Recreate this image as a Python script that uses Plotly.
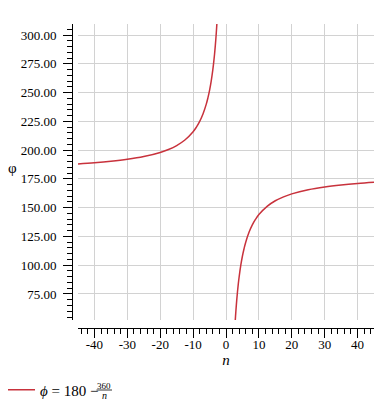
import plotly.graph_objects as go

n_left = [-45, -40, -35, -30, -25, -20, -17.5, -15, -12.5, -10, -9, -8, -7, -6, -5.5, -5, -4.5, -4, -3.75, -3.5, -3.25, -3.1, -3, -2.9, -2.75]
phi_left = [188.0, 189.0, 190.29, 192.0, 194.4, 198.0, 200.57, 204.0, 208.8, 216.0, 220.0, 225.0, 231.43, 240.0, 245.45, 252.0, 260.0, 270.0, 276.0, 282.86, 290.77, 296.13, 300.0, 304.14, 310.91]
n_right = [2.75, 2.9, 3, 3.25, 3.5, 3.75, 4, 4.5, 5, 5.5, 6, 7, 8, 9, 10, 12.5, 15, 17.5, 20, 25, 30, 35, 40, 45]
phi_right = [49.09, 55.86, 60.0, 69.23, 77.14, 84.0, 90.0, 100.0, 108.0, 114.55, 120.0, 128.57, 135.0, 140.0, 144.0, 151.2, 156.0, 159.43, 162.0, 165.6, 168.0, 169.71, 171.0, 172.0]

x_tickvals = [-40, -30, -20, -10, 0, 10, 20, 30, 40]
x_ticktext = ["-40", "-30", "-20", "-10", "0", "10", "20", "30", "40"]

# the page body adds an 8px offset; compensate so marks land on target pixels
O = 8
W, H = 384 - O, 412 - O
AX_X, PLOT_L, PLOT_R = 72, 78, 374
PLOT_T, PLOT_B, AX_Y = 24, 320, 328
ML, MR, MT, MB = AX_X - O, (384 - PLOT_R), PLOT_T - O, 412 - AX_Y
PW, PH = W - ML - MR, H - MT - MB

def px(x):
    return (x - O - ML) / PW

def py(y):
    return (H - MB - (y - O)) / PH

serif = "Liberation Serif"
red = "#c8323c"

fig = go.Figure()
fig.add_trace(go.Scatter(
    x=n_left + [None] + n_right,
    y=phi_left + [None] + phi_right,
    mode="lines",
    line=dict(color=red, width=1.5, shape="spline"),
    connectgaps=False,
    name="<i>ϕ</i> = 180 −",
    showlegend=True,
))

fig.update_layout(
    width=W, height=H,
    margin=dict(l=ML, r=MR, t=MT, b=MB, autoexpand=False),
    paper_bgcolor="white",
    plot_bgcolor="white",
    font=dict(family=serif, size=13, color="black"),
    showlegend=True,
    legend=dict(
        x=px(0), y=py(390), xanchor="left", yanchor="middle",
        font=dict(family=serif, size=15, color="black"),
        bgcolor="rgba(0,0,0,0)", borderwidth=0,
        itemwidth=30,
    ),
    xaxis=dict(
        domain=[(PLOT_L - AX_X) / PW, 1],
        range=[-45, 45],
        anchor="free", position=0,
        showline=True, linecolor="black", linewidth=1,
        ticks="outside", ticklen=9, tickcolor="black", tickwidth=1,
        tickvals=x_tickvals, ticktext=x_ticktext,
        ticklabelstandoff=-5,
        minor=dict(dtick=2, tick0=0, ticks="outside", ticklen=5, tickcolor="black", showgrid=False),
        showgrid=True, gridcolor="#d2d2d2", gridwidth=1,
        zeroline=False,
        automargin=False,
        tickfont=dict(family=serif, size=13, color="black"),
        title=dict(text="<i>n</i>", font=dict(family=serif, size=15, color="black"), standoff=0),
    ),
    yaxis=dict(
        domain=[(AX_Y - PLOT_B) / PH, 1],
        range=[52.4, 309.6],
        anchor="free", position=0,
        showline=True, linecolor="black", linewidth=1,
        ticks="outside", ticklen=9, tickcolor="black", tickwidth=1,
        tick0=0, dtick=25, tickformat=".2f",
        ticklabelstandoff=4,
        minor=dict(dtick=5, tick0=0, ticks="outside", ticklen=5, tickcolor="black", showgrid=False),
        showgrid=True, gridcolor="#d2d2d2", gridwidth=1,
        zeroline=False,
        automargin=False,
        tickfont=dict(family=serif, size=13, color="black"),
    ),
    annotations=[
        dict(text="φ", x=px(12), y=py(168), xref="paper", yref="paper",
             showarrow=False, font=dict(family=serif, size=15, color="black"),
             xanchor="center", yanchor="middle"),
        dict(text="360", x=px(104), y=py(385.5), xref="paper", yref="paper",
             showarrow=False, font=dict(family=serif, size=9, color="black"),
             xanchor="center", yanchor="middle"),
        dict(text="<i>n</i>", x=px(104), y=py(395), xref="paper", yref="paper",
             showarrow=False, font=dict(family=serif, size=10, color="black"),
             xanchor="center", yanchor="middle"),
    ],
    shapes=[
        dict(type="line", xref="paper", yref="paper",
             x0=px(96.5), x1=px(112), y0=py(390), y1=py(390),
             line=dict(color="black", width=0.8)),
    ],
)

fig.write_html("out.html")
